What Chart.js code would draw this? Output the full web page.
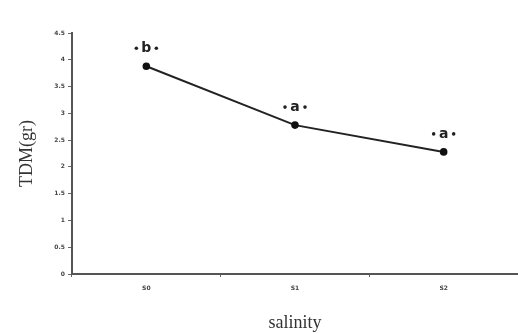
<!DOCTYPE html>
<html>
<head>
<meta charset="utf-8">
<script src="https://cdn.jsdelivr.net/npm/chart.js@4/dist/chart.umd.min.js"></script>
<style>
html,body{margin:0;padding:0;background:#fff;}
#wrap{width:518px;height:334px;position:relative;}
</style>
</head>
<body>
<div id="wrap"><canvas id="c" width="518" height="334"></canvas></div>
<script>
const categories = ['S0', 'S1', 'S2'];
const tdmValues = [3.88, 2.78, 2.28];
const groupLetters = ['b', 'a', 'a'];
const yTicks = [0, 0.5, 1, 1.5, 2, 2.5, 3, 3.5, 4, 4.5];

const letterPlugin = {
  id: 'letters',
  afterDatasetsDraw(chart) {
    const ctx = chart.ctx;
    const meta = chart.getDatasetMeta(0);
    ctx.save();
    ctx.fillStyle = '#222';
    ctx.textAlign = 'center';
    ctx.textBaseline = 'middle';
    meta.data.forEach((pt, i) => {
      const x = pt.x, y = pt.y - 18;
      ctx.font = 'bold 14px "DejaVu Sans", Arial, sans-serif';
      ctx.fillText(groupLetters[i], x, y);
      ctx.beginPath(); ctx.arc(x - 10, y, 1.8, 0, Math.PI * 2); ctx.fill();
      ctx.beginPath(); ctx.arc(x + 10, y, 1.8, 0, Math.PI * 2); ctx.fill();
    });
    ctx.restore();
  }
};

new Chart(document.getElementById('c'), {
  type: 'line',
  data: {
    labels: categories,
    datasets: [{
      data: tdmValues,
      borderColor: '#222',
      borderWidth: 2,
      backgroundColor: '#111',
      pointRadius: 2.8,
      pointBackgroundColor: '#111',
      pointBorderColor: '#111',
      tension: 0,
      fill: false
    }]
  },
  options: {
    responsive: false,
    animation: false,
    layout: { autoPadding: false, padding: { top: 33, right: 0, left: 0, bottom: 0 } },
    plugins: { legend: { display: false }, tooltip: { enabled: false } },
    scales: {
      x: {
        type: 'category',
        offset: true,
        border: { display: true, color: '#555', width: 2 },
        grid: { display: true, offset: true, drawOnChartArea: false, drawTicks: true, tickLength: 3, color: '#666' },
        ticks: { color: '#444', font: { size: 6, weight: 'bold', family: 'DejaVu Sans' }, padding: 8 },
        title: { display: true, text: 'salinity', color: '#333', font: { size: 18, family: '"Liberation Serif", "Times New Roman", serif' }, padding: { top: 4, bottom: 0 } },
        afterFit(scale) { scale.height = 60; scale.paddingLeft = 0; scale.paddingRight = 0; }
      },
      y: {
        min: 0, max: 4.5,
        afterBuildTicks(scale) { scale.ticks = yTicks.map(v => ({ value: v })); },
        border: { display: true, color: '#555', width: 2 },
        grid: { display: true, drawOnChartArea: false, drawTicks: true, tickLength: 4, color: '#666' },
        ticks: { color: '#444', font: { size: 6, weight: 'bold', family: 'DejaVu Sans' }, padding: 3, callback: (v) => String(v) },
        title: { display: true, text: 'TDM(gr)', color: '#333', font: { size: 18, family: '"Liberation Serif", "Times New Roman", serif' }, padding: { top: 16, bottom: 0 } },
        afterFit(scale) { scale.width = 72; scale.paddingTop = 0; scale.paddingBottom = 0; }
      }
    }
  },
  plugins: [letterPlugin]
});
</script>
</body>
</html>
